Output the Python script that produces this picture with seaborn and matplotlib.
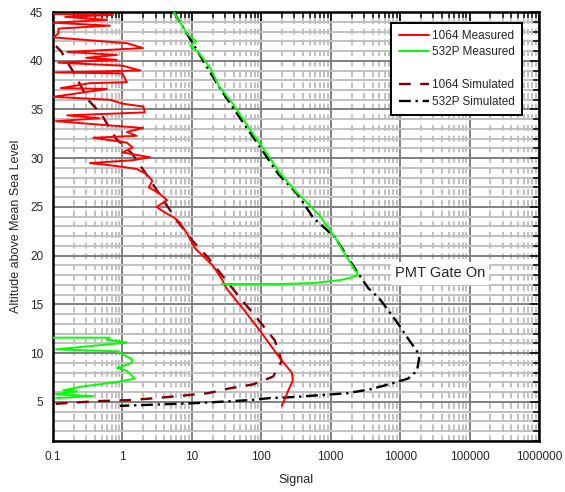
import numpy as np
import seaborn as sns
import matplotlib
matplotlib.use('Agg')
from matplotlib import pyplot as plt
from matplotlib.lines import Line2D
from matplotlib.ticker import LogLocator, MultipleLocator, FuncFormatter

# 1064 measured (signal, altitude km)
red_alt = [44.8, 44.7, 44.5, 44.2, 43.9, 43.6, 43.3, 42.8, 42.4, 41.8, 41.3, 40.9, 40.6, 40.3, 40.1,
           39.8, 39.5, 39.0, 38.8, 38.7, 37.8, 37.7, 37.2, 37.1, 36.3, 36.0, 35.6, 35.3, 34.7, 34.4,
           34.1, 33.8, 33.1, 32.7, 32.3, 32.1, 31.6, 31.1, 30.6, 30.1, 29.8, 29.5, 29.2, 28.9, 28.4,
           27.7, 27.0, 26.4, 25.7, 25.0, 24.3, 23.9, 23.4, 22.3, 20.8, 19.0, 17.6, 16.6, 14.6, 12.3,
           9.5, 8.0, 7.2, 6.1, 4.6]
red_sig = [0.1, 0.73, 0.15, 0.6, 0.1, 0.66, 0.12, 0.12, 0.1, 1.16, 1.98, 0.16, 0.83, 0.3, 0.83,
           0.12, 1.0, 1.8, 0.11, 1.0, 1.16, 0.34, 0.13, 0.6, 0.1, 0.66, 1.0, 2.0, 2.1, 0.16,
           0.47, 0.11, 2.0, 1.16, 1.6, 0.38, 1.16, 1.4, 1.0, 2.5, 1.4, 0.34, 0.83, 1.6, 2.2,
           2.7, 2.4, 3.4, 4.4, 3.1, 4.4, 5.6, 6.7, 8.5, 11, 20, 27, 32, 54, 96,
           185, 276, 285, 242, 198]

# 532P measured, upper part (above the PMT gate)
grn_hi_alt = [45.0, 44.7, 42.8, 42.0, 41.5, 41.0, 39.3, 37.3, 35.6, 32.5, 30.5, 28.5, 26.5, 24.1,
              21.7, 20.5, 18.0, 17.6, 17.5, 17.2, 17.1, 17.1]
grn_hi_sig = [5.5, 5.8, 8.5, 11.5, 9.5, 12, 18.3, 25, 39, 76, 120, 185, 325, 700,
              1200, 1500, 2480, 1600, 1350, 560, 186, 27]

# 532P measured, lower part
grn_lo_alt = [11.6, 11.6, 11.4, 11.1, 10.8, 10.4, 10.2, 9.4, 9.0, 8.5, 8.2, 7.4, 7.05, 6.6,
              6.2, 6.1, 5.8, 5.6, 5.4]
grn_lo_sig = [0.1, 0.66, 0.6, 1.16, 0.43, 0.11, 0.83, 1.37, 1.37, 0.83, 1.16, 1.51, 0.83, 0.27,
              0.14, 0.22, 0.11, 0.38, 0.11]

# 1064 simulated
sim1064_alt = [41.5, 41.0, 38.5, 36.0, 34.5, 32.0, 30.5, 28.7, 26.2, 23.6, 21.5, 19.7, 17.6, 15.5,
               13.5, 11.3, 9.2, 7.6, 6.8, 6.4, 5.9, 5.7, 5.5, 5.2, 5.1, 4.8]
sim1064_sig = [0.11, 0.13, 0.21, 0.32, 0.5, 0.81, 1.37, 2.05, 3.5, 6.1, 10.3, 17.7, 30, 52,
               89, 157, 197, 148, 76, 35, 17, 8.5, 4.4, 1.4, 0.47, 0.1]

# 532P simulated
sim532_alt = [45.0, 41.1, 39.7, 37.2, 34.4, 31.5, 28.4, 26.4, 23.9, 21.9, 18.2, 16.7, 15.6, 13.1,
              11.5, 10.2, 9.5, 8.2, 7.4, 6.85, 6.3, 5.9, 5.7, 5.5, 5.4, 5.2, 4.9, 4.6]
sim532_sig = [5.5, 11.8, 15.4, 25.3, 46.5, 89, 175, 325, 560, 1150, 2480, 3450, 5040, 9200,
              13000, 17500, 18800, 17500, 13000, 7200, 3700, 1730, 700, 285, 134, 69, 13, 0.92]

x_ticks = [0.1, 1, 10, 100, 1000, 10000, 100000, 1000000]

sns.set_style('white')
plt.rcParams['font.family'] = ['Liberation Sans', 'DejaVu Sans']

fig = plt.figure(figsize=(5.65, 4.92), dpi=100)
ax = fig.add_axes([0.0938, 0.1037, 0.8602, 0.8719])

dash1064 = (0, (5, 4))
dash532 = (0, (5, 2, 1, 2))

sns.lineplot(x=sim1064_sig, y=sim1064_alt, sort=False, estimator=None, color='#800000',
             lw=1.7, linestyle=dash1064, ax=ax, zorder=3)
sns.lineplot(x=sim532_sig, y=sim532_alt, sort=False, estimator=None, color='black',
             lw=1.7, linestyle=dash532, ax=ax, zorder=3)
sns.lineplot(x=red_sig, y=red_alt, sort=False, estimator=None, color='#ff0000',
             lw=1.4, ax=ax, zorder=4)
sns.lineplot(x=grn_hi_sig, y=grn_hi_alt, sort=False, estimator=None, color='#00ff00',
             lw=1.4, ax=ax, zorder=4)
sns.lineplot(x=grn_lo_sig, y=grn_lo_alt, sort=False, estimator=None, color='#00ff00',
             lw=1.4, ax=ax, zorder=4)

ax.set_xscale('log')
ax.set_xlim(0.1, 1e6)
ax.set_ylim(1, 45)
ax.set_xticks(x_ticks)
ax.xaxis.set_major_formatter(FuncFormatter(lambda v, p: f'{v:g}' if v < 1 else f'{int(round(v))}'))
ax.xaxis.set_minor_locator(LogLocator(base=10, subs=np.arange(2, 10), numticks=20))
ax.yaxis.set_major_locator(MultipleLocator(5))
ax.yaxis.set_minor_locator(MultipleLocator(1))

ax.grid(which='major', color='#808080', lw=1.4, zorder=1)
ax.grid(which='minor', axis='y', color='#c0c0c0', lw=1.4, zorder=0)
ax.grid(which='minor', axis='x', color='#c0c0c0', lw=1.4, linestyle=(0, (3, 2.5)), zorder=0)
ax.set_axisbelow(True)

ax.tick_params(which='both', direction='in', top=True, right=True, color='black',
               labelsize=8.5, pad=7)
ax.tick_params(which='major', length=6.5, width=1.1)
ax.tick_params(which='minor', length=4, width=1.1)
for s in ax.spines.values():
    s.set_linewidth(1.8)
    s.set_color('black')

ax.set_xlabel('Signal', fontsize=9, labelpad=8)
ax.set_ylabel('Altitude above Mean Sea Level', fontsize=9, labelpad=6)

ax.text(37500, 18.2, 'PMT Gate On', fontsize=10.5, ha='center', va='center', zorder=6,
        bbox=dict(facecolor='white', edgecolor='none', pad=3))

handles = [Line2D([], [], color='#ff0000', lw=1.4),
           Line2D([], [], color='#00ff00', lw=1.4),
           Line2D([], [], color='none'),
           Line2D([], [], color='#800000', lw=1.7, linestyle=dash1064),
           Line2D([], [], color='black', lw=1.7, linestyle=dash532)]
labels = ['1064 Measured', '532P Measured', ' ', '1064 Simulated', '532P Simulated']
leg = ax.legend(handles, labels, loc='upper right', bbox_to_anchor=(0.965, 0.975),
                borderaxespad=0, fontsize=8.5, handlelength=2.6, handletextpad=0.25,
                fancybox=False, framealpha=1, edgecolor='black', labelspacing=0.38,
                borderpad=0.6)
leg.get_frame().set_linewidth(1.4)
leg.set_zorder(7)

fig.savefig('out.png', dpi=100)
